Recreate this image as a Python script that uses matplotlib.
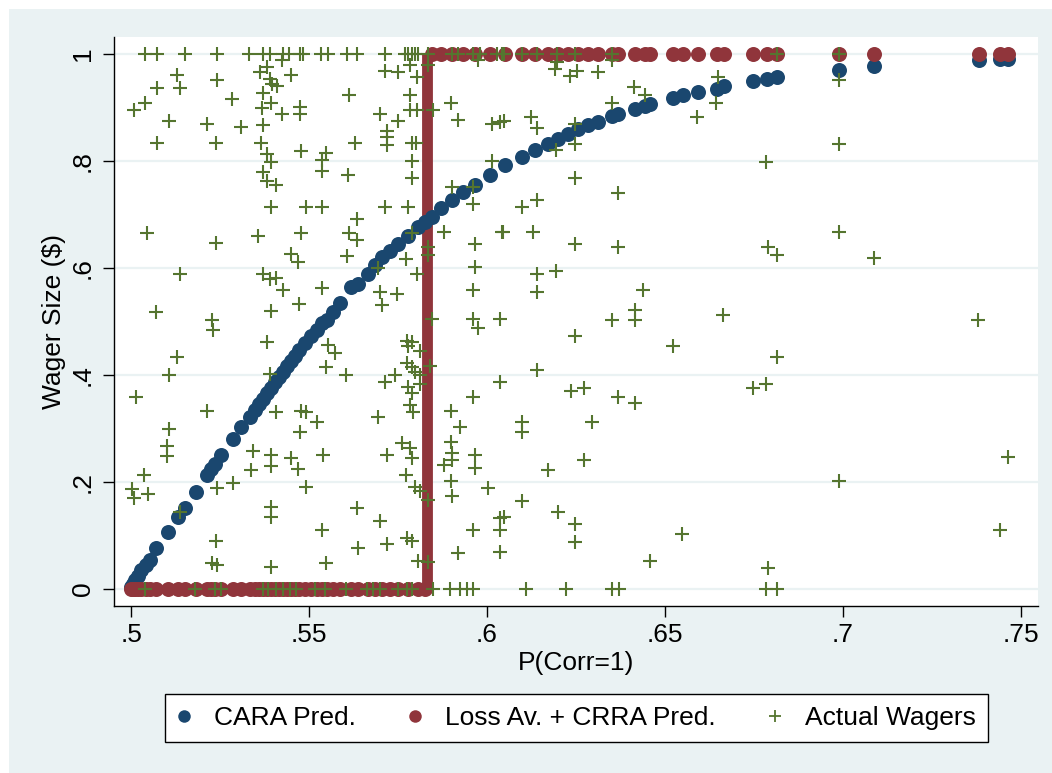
import matplotlib
matplotlib.use("Agg")
import matplotlib.pyplot as plt
from matplotlib.lines import Line2D
from matplotlib.patches import Rectangle

plt.rcParams['font.family'] = ['Liberation Sans', 'DejaVu Sans']

# --- data ---
p_corr = [0.5000, 0.5005, 0.5012, 0.5020, 0.5028, 0.5043, 0.5053, 0.5071, 0.5104, 0.5132,
          0.5151, 0.5181, 0.5214, 0.5225, 0.5236, 0.5253, 0.5287, 0.5310, 0.5333, 0.5348,
          0.5360, 0.5371, 0.5382, 0.5393, 0.5404, 0.5416, 0.5427, 0.5438, 0.5449, 0.5461,
          0.5472, 0.5488, 0.5505, 0.5521, 0.5537, 0.5551, 0.5567, 0.5587, 0.5618, 0.5638,
          0.5666, 0.5685, 0.5704, 0.5728, 0.5751, 0.5778, 0.5807, 0.5826, 0.5845, 0.5871,
          0.5901, 0.5933, 0.5966, 0.6008, 0.6051, 0.6097, 0.6135, 0.6172, 0.6200, 0.6228,
          0.6256, 0.6285, 0.6313, 0.6350, 0.6369, 0.6416, 0.6444, 0.6458, 0.6523, 0.6551,
          0.6594, 0.6645, 0.6667, 0.6748, 0.6786, 0.6814, 0.6989, 0.7086, 0.7381, 0.7441,
          0.7464]

cara_pred = [0.004, 0.010, 0.017, 0.024, 0.036, 0.045, 0.054, 0.076, 0.107, 0.135,
             0.151, 0.181, 0.214, 0.224, 0.234, 0.251, 0.280, 0.302, 0.322, 0.335,
             0.346, 0.355, 0.366, 0.376, 0.387, 0.396, 0.406, 0.417, 0.426, 0.436,
             0.447, 0.459, 0.472, 0.484, 0.497, 0.503, 0.518, 0.535, 0.565, 0.570,
             0.589, 0.606, 0.621, 0.632, 0.645, 0.660, 0.677, 0.686, 0.695, 0.712,
             0.727, 0.742, 0.755, 0.774, 0.793, 0.808, 0.820, 0.832, 0.842, 0.851,
             0.860, 0.867, 0.873, 0.884, 0.887, 0.898, 0.902, 0.906, 0.918, 0.923,
             0.929, 0.935, 0.940, 0.950, 0.954, 0.957, 0.971, 0.977, 0.989, 0.991,
             0.991]

crra_pred = [0, 0, 0, 0, 0, 0, 0, 0, 0, 0,
             0, 0, 0, 0, 0, 0, 0, 0, 0, 0,
             0, 0, 0, 0, 0, 0, 0, 0, 0, 0,
             0, 0, 0, 0, 0, 0, 0, 0, 0, 0,
             0, 0, 0, 0, 0, 0, 0, 0, 1, 1,
             1, 1, 1, 1, 1, 1, 1, 1, 1, 1,
             1, 1, 1, 1, 1, 1, 1, 1, 1, 1,
             1, 1, 1, 1, 1, 1, 1, 1, 1, 1,
             1]

crra_cutoff = 0.583  # indifference point: any wager optimal

wager_p = [
    # full wagers
    0.5038, 0.5074, 0.5151, 0.5240, 0.5331, 0.5371, 0.5390, 0.5427, 0.5443, 0.5474,
    0.5483, 0.5533, 0.5553, 0.5608, 0.5634, 0.5712, 0.5770, 0.5779, 0.5788, 0.5798,
    0.5805, 0.5835, 0.5901, 0.5919, 0.5962, 0.5980, 0.6027, 0.6041, 0.6049, 0.6097,
    0.6140, 0.6196, 0.6247, 0.6350, 0.6814, 0.6989,
    # zero wagers
    0.5038, 0.5179, 0.5235, 0.5254, 0.5371, 0.5385, 0.5408, 0.5427, 0.5446, 0.5464,
    0.5516, 0.5544, 0.5605, 0.5662, 0.5681, 0.5699, 0.5751, 0.5774, 0.5788, 0.5849,
    0.5896, 0.5924, 0.5943, 0.5962, 0.6109, 0.6221, 0.6352, 0.6371, 0.6783, 0.6814,
    # everything in between
    0.5129, 0.5240, 0.5073, 0.5138, 0.5363, 0.5382, 0.5425, 0.5449, 0.5390, 0.5396,
    0.5411, 0.5371, 0.5284, 0.5038, 0.5008, 0.5394, 0.5368, 0.5425, 0.5474, 0.5474,
    0.5612, 0.5106, 0.5214, 0.5310, 0.5371, 0.5073, 0.5238, 0.5364, 0.5382, 0.5392,
    0.5477, 0.5549, 0.5537, 0.5537, 0.5371, 0.5383, 0.5408, 0.5610, 0.5392, 0.5492,
    0.5537, 0.5046, 0.5238, 0.5357, 0.5477, 0.5612, 0.5450, 0.5469, 0.5608, 0.5138,
    0.5371, 0.5390, 0.5408, 0.5427, 0.5535, 0.5472, 0.5069, 0.5392, 0.5226, 0.5230,
    0.5383, 0.5129, 0.5106, 0.5553, 0.5572, 0.5549, 0.5605, 0.5390, 0.5013, 0.5214,
    0.5408, 0.5477, 0.5492, 0.5521, 0.5474, 0.5106, 0.5102, 0.5102, 0.5343, 0.5392,
    0.5392, 0.5338, 0.5450, 0.5469, 0.5539, 0.5037, 0.5003, 0.5008, 0.5048, 0.5287,
    0.5240, 0.5492, 0.5137, 0.5392, 0.5392, 0.5537, 0.5238, 0.5228, 0.5242, 0.5392,
    0.5549, 0.5713, 0.5751, 0.5784, 0.5803, 0.5835, 0.5976, 0.5784, 0.5699, 0.5784,
    0.5803, 0.5849, 0.5899, 0.5919, 0.6013, 0.6037, 0.5751, 0.5718, 0.5718, 0.5718,
    0.5629, 0.5788, 0.5800, 0.5788, 0.5788, 0.6013, 0.5901, 0.5962, 0.5962, 0.5712,
    0.5779, 0.5634, 0.5634, 0.5788, 0.5880, 0.6041, 0.5835, 0.5835, 0.5966, 0.5695,
    0.5772, 0.5803, 0.5966, 0.5699, 0.5746, 0.5704, 0.5962, 0.5845, 0.5962, 0.6037,
    0.5976, 0.5774, 0.5788, 0.5779, 0.5812, 0.5774, 0.5788, 0.5840, 0.5798, 0.5812,
    0.5713, 0.5742, 0.6037, 0.5779, 0.5812, 0.5788, 0.5962, 0.5784, 0.5793, 0.5899,
    0.5695, 0.5924, 0.5760, 0.5784, 0.5788, 0.5718, 0.5899, 0.5901, 0.5901, 0.5880,
    0.5966, 0.5966, 0.5772, 0.5798, 0.5812, 0.5835, 0.5899, 0.5901, 0.6002, 0.5634,
    0.5698, 0.5962, 0.6037, 0.6037, 0.5637, 0.5718, 0.5774, 0.5788, 0.5919, 0.6037,
    0.5807, 0.5835, 0.6196, 0.6350, 0.6191, 0.6252, 0.6233, 0.6313, 0.6414, 0.6444,
    0.6352, 0.6049, 0.6124, 0.6140, 0.6247, 0.6247, 0.6194, 0.6589, 0.6247, 0.6369,
    0.6097, 0.6140, 0.6046, 0.6130, 0.6247, 0.6369, 0.6140, 0.6194, 0.6140, 0.6439,
    0.6416, 0.6352, 0.6416, 0.6247, 0.6523, 0.6140, 0.6236, 0.6273, 0.6369, 0.6416,
    0.6099, 0.6099, 0.6294, 0.6273, 0.6171, 0.6099, 0.6049, 0.6200, 0.6247, 0.6247,
    0.6549, 0.6458, 0.6650, 0.6989, 0.6642, 0.6783, 0.6989, 0.6989, 0.6790, 0.6814,
    0.7086, 0.6664, 0.7380, 0.6814, 0.6748, 0.6783, 0.7463, 0.6989, 0.7441, 0.6790,
]

wager_size = [
    1, 1, 1, 1, 1, 1, 1, 1, 1, 1,
    1, 1, 1, 1, 1, 1, 1, 1, 1, 1,
    1, 1, 1, 1, 1, 1, 1, 1, 1, 1,
    1, 1, 1, 1, 1, 1,
    0, 0, 0, 0, 0, 0, 0, 0, 0, 0,
    0, 0, 0, 0, 0, 0, 0, 0, 0, 0,
    0, 0, 0, 0, 0, 0, 0, 0, 0, 0,
    0.960, 0.952, 0.936, 0.936, 0.966, 0.976, 0.988, 0.960, 0.954, 0.944,
    0.940, 0.928, 0.915, 0.908, 0.896, 0.908, 0.900, 0.888, 0.901, 0.887,
    0.923, 0.874, 0.869, 0.864, 0.867, 0.834, 0.834, 0.834, 0.814, 0.798,
    0.818, 0.815, 0.801, 0.781, 0.779, 0.763, 0.755, 0.773, 0.714, 0.714,
    0.714, 0.666, 0.647, 0.660, 0.666, 0.666, 0.626, 0.612, 0.622, 0.588,
    0.588, 0.579, 0.582, 0.558, 0.563, 0.533, 0.518, 0.520, 0.502, 0.484,
    0.462, 0.434, 0.400, 0.456, 0.441, 0.415, 0.400, 0.401, 0.358, 0.333,
    0.330, 0.333, 0.331, 0.313, 0.294, 0.299, 0.268, 0.249, 0.258, 0.250,
    0.229, 0.222, 0.245, 0.224, 0.250, 0.213, 0.187, 0.171, 0.177, 0.199,
    0.188, 0.191, 0.143, 0.154, 0.135, 0.110, 0.090, 0.048, 0.044, 0.042,
    0.048, 0.968, 0.966, 0.979, 0.957, 0.979, 0.988, 0.923, 0.888, 0.895,
    0.896, 0.895, 0.908, 0.876, 0.870, 0.873, 0.874, 0.857, 0.845, 0.829,
    0.834, 0.834, 0.834, 0.800, 0.769, 0.800, 0.751, 0.751, 0.720, 0.714,
    0.714, 0.692, 0.652, 0.665, 0.667, 0.667, 0.639, 0.624, 0.645, 0.600,
    0.617, 0.588, 0.602, 0.555, 0.552, 0.530, 0.558, 0.505, 0.505, 0.505,
    0.487, 0.464, 0.462, 0.455, 0.445, 0.422, 0.415, 0.417, 0.406, 0.400,
    0.387, 0.400, 0.387, 0.378, 0.384, 0.366, 0.358, 0.344, 0.331, 0.333,
    0.322, 0.303, 0.272, 0.263, 0.245, 0.250, 0.274, 0.255, 0.241, 0.232,
    0.250, 0.226, 0.214, 0.191, 0.183, 0.166, 0.201, 0.174, 0.188, 0.151,
    0.127, 0.110, 0.132, 0.110, 0.077, 0.084, 0.095, 0.090, 0.067, 0.070,
    0.052, 0.051, 0.985, 0.988, 0.972, 0.969, 0.958, 0.966, 0.938, 0.923,
    0.908, 0.874, 0.882, 0.862, 0.870, 0.832, 0.820, 0.882, 0.769, 0.741,
    0.714, 0.728, 0.667, 0.667, 0.645, 0.639, 0.589, 0.594, 0.555, 0.558,
    0.522, 0.502, 0.502, 0.473, 0.455, 0.409, 0.370, 0.375, 0.358, 0.347,
    0.313, 0.294, 0.313, 0.241, 0.222, 0.164, 0.135, 0.143, 0.121, 0.087,
    0.102, 0.052, 0.957, 0.951, 0.908, 0.799, 0.832, 0.667, 0.640, 0.624,
    0.619, 0.512, 0.502, 0.434, 0.375, 0.384, 0.247, 0.201, 0.110, 0.040,
]

xticks = [0.5, 0.55, 0.6, 0.65, 0.7, 0.75]
xticklabels = ['.5', '.55', '.6', '.65', '.7', '.75']
yticks = [0, 0.2, 0.4, 0.6, 0.8, 1]
yticklabels = ['0', '.2', '.4', '.6', '.8', '1']

navy = '#1A476F'
maroon = '#90353B'
green = '#55752F'
bg = '#EAF2F3'
fs = 19

W, H = 1052, 773
fig = plt.figure(figsize=(W / 100, H / 100), dpi=100, facecolor='white')
fig.patches.append(Rectangle((9 / W, 0), 1 - 9 / W, 1 - 9 / H, transform=fig.transFigure,
                             facecolor=bg, edgecolor='none', zorder=-10))

ax = fig.add_axes([114 / W, 1 - 606 / H, (1038 - 114) / W, (606 - 37) / H])
ax.set_facecolor('white')

for yv in yticks:
    ax.axhline(yv, color=bg, lw=1.6, zorder=1)

ax.vlines(crra_cutoff, 0, 1, color=maroon, lw=7.8, zorder=2)
ax.plot(p_corr, cara_pred, 'o', color=navy, ms=10.8, mec='none', zorder=3)
ax.plot(p_corr, crra_pred, 'o', color=maroon, ms=10.8, mec='none', zorder=4)
ax.plot(wager_p, wager_size, '+', color=green, ms=9.5, mew=1.5, zorder=5)

ax.set_xlim(0.4952, 0.7548)
ax.set_ylim(-0.0318, 1.0318)
for s in ['top', 'right']:
    ax.spines[s].set_visible(False)
for s in ['left', 'bottom']:
    ax.spines[s].set_linewidth(1.0)

ax.set_xticks(xticks)
ax.set_xticklabels(xticklabels)
ax.set_yticks(yticks)
ax.set_yticklabels(yticklabels, rotation=90, va='center')
ax.tick_params(axis='x', labelsize=fs, length=8, width=1.0, pad=4, color='black')
ax.tick_params(axis='y', labelsize=fs, length=8, width=1.0, pad=6, color='black')

ax.set_xlabel('P(Corr=1)', fontsize=fs, labelpad=3)
ax.set_ylabel('Wager Size ($)', fontsize=fs, labelpad=3)

handles = [
    Line2D([], [], ls='none', marker='o', color=navy, ms=9, mec='none'),
    Line2D([], [], ls='none', marker='o', color=maroon, ms=9, mec='none'),
    Line2D([], [], ls='none', marker='+', color=green, ms=8, mew=1.3),
]
labels = ['CARA Pred.', 'Loss Av. + CRRA Pred.', 'Actual Wagers']
leg = fig.legend(handles, labels, loc='center', bbox_to_anchor=(576.5 / W, 1 - 718 / H),
                 ncol=3, fontsize=fs, frameon=True, fancybox=False, edgecolor='black',
                 framealpha=1, handlelength=0.5, handletextpad=0.89, columnspacing=2.0,
                 borderpad=0.45, borderaxespad=0)
leg.get_frame().set_linewidth(1.0)

fig.savefig('out.png', dpi=100, facecolor=fig.get_facecolor())
